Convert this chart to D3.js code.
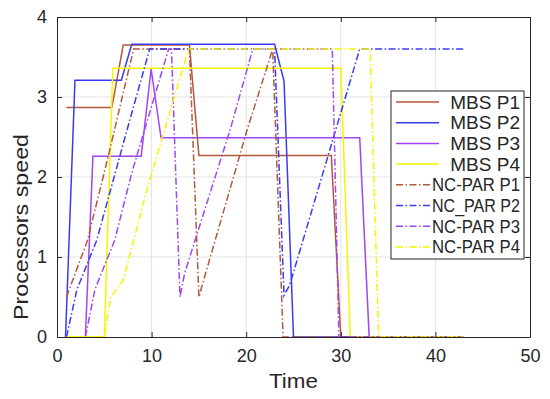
<!DOCTYPE html>
<html lang="en">
<head>
<meta charset="utf-8">
<title>Processors speed</title>
<script src="https://d3js.org/d3.v7.min.js"></script>
<style>
  body { margin: 0; background: #fff; }
  text { font-family: "Liberation Sans", Arial, sans-serif; fill: #262626; }
</style>
</head>
<body>
<script>
// tick values
var xTicks = [0, 10, 20, 30, 40, 50];
var yTicks = [0, 1, 2, 3, 4];

// series: [time, speed] points
var mbsP1 = [[1, 2.87], [5.8, 2.87], [7, 3.65], [14, 3.65], [15, 2.27], [29, 2.27], [30, 0], [43, 0]];
var mbsP2 = [[0.9, 0], [1.9, 3.21], [6.8, 3.21], [7.9, 3.66], [23, 3.66], [24, 3.2], [25, 0], [43, 0]];
var mbsP3 = [[3, 0], [3.8, 2.26], [8.9, 2.26], [9.95, 3.35], [11, 2.49], [32, 2.49], [33, 0], [43, 0]];
var mbsP4 = [[1, 0], [5, 0], [5.9, 3.36], [30, 3.36], [31, 0], [43, 0]];
var ncP1 = [[1, 0.5], [3.2, 1.2], [5.4, 2.25], [8.1, 3.6], [14, 3.6], [15, 0.5], [15.5, 0.71], [20.1, 2.59], [22.8, 3.6], [23.9, 0], [43, 0]];
var ncP2 = [[1, 0], [2.1, 0.59], [4.2, 1.21], [7.2, 2.5], [9.8, 3.6], [23, 3.6], [24, 0.52], [24.6, 0.65], [32, 3.6], [43, 3.6]];
var ncP3 = [[3, 0], [4, 0.59], [6.1, 1.21], [7.9, 2.05], [11.8, 3.6], [12.1, 3.6], [13, 0.5], [13.5, 0.8], [18.3, 2.59], [20.7, 3.6], [29.1, 3.6], [29.8, 0], [43, 0]];
var ncP4 = [[1, 0], [5, 0], [5.7, 0.5], [7, 0.71], [9.5, 1.84], [13.9, 3.6], [33.1, 3.6], [34, 0], [43, 0]];

var seriesNames = ["MBS P1", "MBS P2", "MBS P3", "MBS P4", "NC-PAR P1", "NC_PAR P2", "NC-PAR P3", "NC-PAR P4"];
var seriesData = [mbsP1, mbsP2, mbsP3, mbsP4, ncP1, ncP2, ncP3, ncP4];
var colors = ["#b5573a", "#3a3af5", "#a046f0", "#f5f500", "#b5573a", "#3a3af5", "#a046f0", "#f5f500"];

var W = 550, H = 399;
var margin = {left: 57, top: 17, right: 20, bottom: 62};
var w = W - margin.left - margin.right;
var h = H - margin.top - margin.bottom;

var svg = d3.select("body").append("svg")
  .attr("width", W)
  .attr("height", H);

var g = svg.append("g")
  .attr("transform", "translate(" + margin.left + "," + margin.top + ")");

var xScale = d3.scaleLinear().domain([0, 50]).range([0, w]);
var yScale = d3.scaleLinear().domain([0, 4]).range([h, 0]);

// grid
g.append("g").selectAll("line")
  .data(xTicks.slice(1, -1))
  .enter().append("line")
  .attr("x1", function(d) { return xScale(d); })
  .attr("x2", function(d) { return xScale(d); })
  .attr("y1", 0).attr("y2", h)
  .attr("stroke", "#e3e3e3").attr("stroke-width", 1);
g.append("g").selectAll("line")
  .data(yTicks.slice(1, -1))
  .enter().append("line")
  .attr("y1", function(d) { return yScale(d); })
  .attr("y2", function(d) { return yScale(d); })
  .attr("x1", 0).attr("x2", w)
  .attr("stroke", "#e3e3e3").attr("stroke-width", 1);

// lines
var line = d3.line()
  .x(function(d) { return xScale(d[0]); })
  .y(function(d) { return yScale(d[1]); });

g.append("g").selectAll("path")
  .data(seriesData)
  .enter().append("path")
  .attr("d", line)
  .attr("fill", "none")
  .attr("stroke", function(d, i) { return colors[i]; })
  .attr("stroke-width", 1.5)
  .attr("stroke-dasharray", function(d, i) { return i < 4 ? null : "7,2.5,1.5,2.5"; });

// axes (MATLAB box style, ticks inside)
var fmt = d3.format("d");
var xAxis = d3.axisBottom(xScale).tickValues(xTicks).tickFormat(fmt).tickSizeInner(-5).tickSizeOuter(0).tickPadding(12);
var yAxis = d3.axisLeft(yScale).tickValues(yTicks).tickFormat(fmt).tickSizeInner(-5).tickSizeOuter(0).tickPadding(10);
var xTop = d3.axisTop(xScale).tickValues(xTicks).tickSizeInner(-5).tickSizeOuter(0).tickFormat("");
var yRight = d3.axisRight(yScale).tickValues(yTicks).tickSizeInner(-5).tickSizeOuter(0).tickFormat("");

function styleAxis(sel) {
  sel.selectAll("path, line").attr("stroke", "#262626");
  sel.selectAll("text").attr("fill", "#262626")
    .style("font-size", "18px")
    .style("font-family", "'Liberation Sans', Arial, sans-serif");
}

g.append("g").attr("transform", "translate(0," + h + ")").call(xAxis).call(styleAxis);
g.append("g").call(yAxis).call(styleAxis);
g.append("g").call(xTop).call(styleAxis);
g.append("g").attr("transform", "translate(" + w + ",0)").call(yRight).call(styleAxis);

// axis labels
svg.append("text")
  .attr("x", margin.left + w / 2)
  .attr("y", 388)
  .attr("text-anchor", "middle")
  .style("font-size", "20px")
  .attr("textLength", 49)
  .attr("lengthAdjust", "spacingAndGlyphs")
  .text("Time");

svg.append("text")
  .attr("transform", "translate(28," + (margin.top + h / 2 + 25) + ") rotate(-90)")
  .attr("x", -25)
  .attr("text-anchor", "middle")
  .style("font-size", "20px")
  .attr("textLength", 186)
  .attr("lengthAdjust", "spacingAndGlyphs")
  .text("Processors speed");

// legend
var legX = 391, legY = 91, legW = 133, legH = 168;
var legend = svg.append("g");
legend.append("rect")
  .attr("x", legX).attr("y", legY)
  .attr("width", legW).attr("height", legH)
  .attr("fill", "#fff")
  .attr("stroke", "#262626").attr("stroke-width", 1);

var rowH = 20.7;
var items = legend.selectAll("g.item")
  .data(seriesNames)
  .enter().append("g")
  .attr("class", "item")
  .attr("transform", function(d, i) { return "translate(0," + (legY + 11 + i * rowH) + ")"; });

items.append("line")
  .attr("x1", legX + 5).attr("x2", function(d, i) { return i < 4 ? legX + 48 : legX + 40; })
  .attr("y1", 0).attr("y2", 0)
  .attr("stroke", function(d, i) { return colors[i]; })
  .attr("stroke-width", 1.5)
  .attr("stroke-dasharray", function(d, i) { return i < 4 ? null : "7,2.5,1.5,2.5"; });

items.append("text")
  .attr("x", legX + legW - 4)
  .attr("y", 6.5)
  .attr("text-anchor", "end")
  .style("font-size", "19px")
  .attr("fill", "#000")
  .each(function(d, i) {
    if (i >= 4) {
      d3.select(this)
        .attr("x", legX + 41)
        .attr("text-anchor", "start")
        .attr("textLength", 88)
        .attr("lengthAdjust", "spacingAndGlyphs");
    }
  })
  .text(function(d) { return d; });
</script>
</body>
</html>
